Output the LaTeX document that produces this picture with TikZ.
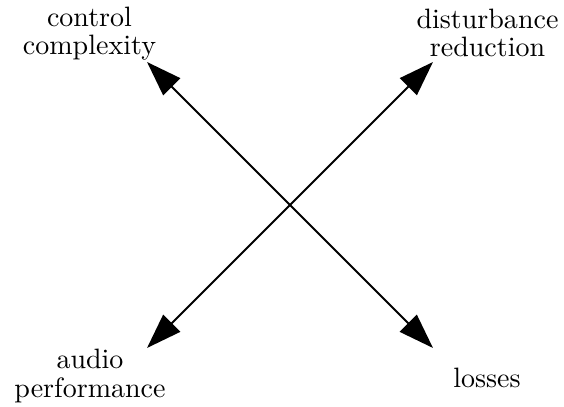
\documentclass[tikz,border=0pt]{standalone}
\usetikzlibrary{arrows.meta}
\begin{document}
\begin{tikzpicture}[x=0.357pt,y=-0.357pt,
  lbl/.style={align=center,inner sep=0pt,font=\normalsize},
  arr/.style={line width=0.7pt,{Triangle[length=12.5pt,width=8.5pt]}-{Triangle[length=12.5pt,width=8.5pt]}}]
\useasboundingbox (0,0) rectangle (564,407);
\node[lbl] (cc) at (89.5,33.5) {control\\[-2pt]complexity};
\node[lbl] (dr) at (487.5,32.5) {disturbance\\[-2pt]reduction};
\node[lbl] (ap) at (90,376) {audio\\[-2pt]performance};
\node[lbl] (lo) at (487,378) {losses};
\coordinate (tcc) at (147,62);
\coordinate (tdr) at (433,62);
\coordinate (tap) at (147,348);
\coordinate (tlo) at (433,348);
\draw[arr] (tcc) -- (tlo);
\draw[arr] (tap) -- (tdr);
\end{tikzpicture}
\end{document}
